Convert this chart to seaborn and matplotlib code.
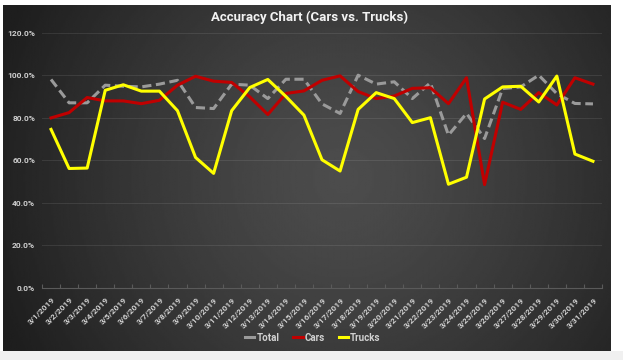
import numpy as np
import pandas as pd
import seaborn as sns
import matplotlib.pyplot as plt
from matplotlib.ticker import PercentFormatter, FixedLocator
from matplotlib.patches import Rectangle

# Data (percent)
dates = ['3/%d/2019' % d for d in range(1, 32)]
total = [98.0, 87.0, 87.0, 95.3, 94.8, 94.5, 95.8, 97.6, 84.8, 84.3, 95.8,
         95.3, 89.0, 98.1, 98.1, 86.5, 82.0, 100.0, 95.8, 96.9, 89.0, 96.4,
         71.8, 82.0, 70.2, 93.7, 94.5, 100.0, 91.3, 86.7, 86.5]
cars = [79.9, 82.4, 89.5, 87.9, 87.9, 86.6, 88.2, 95.3, 99.5, 97.2, 96.6,
        89.8, 81.5, 91.4, 92.6, 97.6, 99.7, 92.3, 89.0, 90.2, 93.8, 94.1,
        86.6, 98.8, 48.5, 87.3, 83.9, 91.8, 86.0, 98.8, 95.8]
trucks = [74.5, 56.1, 56.3, 92.9, 95.5, 92.5, 92.5, 83.3, 61.3, 53.8, 83.3,
          94.2, 98.0, 90.0, 81.2, 60.2, 54.9, 83.9, 91.8, 89.0, 77.7, 80.0,
          48.7, 52.0, 88.8, 94.5, 94.8, 87.4, 99.6, 62.9, 59.5]
series = ['Total', 'Cars', 'Trucks']
colors = {'Total': '#9a9a9a', 'Cars': '#c00000', 'Trucks': '#ffff00'}

df = pd.DataFrame({'Date': dates, 'Total': total, 'Cars': cars, 'Trucks': trucks})
long_df = df.melt(id_vars='Date', var_name='Series', value_name='Accuracy')

plt.rcParams['font.family'] = ['Roboto', 'DejaVu Sans']

fig = plt.figure(figsize=(6.23, 3.6), dpi=100, facecolor='white')
fig.patches.append(Rectangle((0, 0), 1, 9 / 360, transform=fig.transFigure,
                             facecolor='#f0f0f0', edgecolor='none', zorder=-3))

# dark radial gradient background of the chart area
bg = fig.add_axes([3 / 623, 9 / 360, 608 / 623, 346 / 360], zorder=-2)
yy, xx = np.mgrid[0:1:200j, 0:1:350j]
r = np.sqrt(((xx - 0.56) * 1.75) ** 2 + (yy - 0.5) ** 2)
r = np.clip(r / 1.05, 0, 1)
shade = 0.30 - (0.30 - 0.12) * r ** 1.3
bg.imshow(shade, cmap='gray', vmin=0, vmax=1, aspect='auto',
          extent=(0, 1, 0, 1), interpolation='bilinear')
bg.axis('off')

ax = fig.add_axes([42 / 623, (360 - 287.7) / 360, 560 / 623, 255 / 360])
ax.set_facecolor('none')

sns.lineplot(data=long_df, x='Date', y='Accuracy', hue='Series', style='Series',
             hue_order=series, style_order=series, palette=colors,
             dashes={'Total': (3, 1.5), 'Cars': '', 'Trucks': ''},
             linewidth=2.2, sort=False, ax=ax)

ax.set_xlim(-0.5, len(dates) - 0.5)
ax.set_ylim(0, 120)
ax.yaxis.set_major_locator(FixedLocator([0, 20, 40, 60, 80, 100, 120]))
ax.yaxis.set_major_formatter(PercentFormatter(decimals=1))
ax.grid(axis='y', color='#ffffff', alpha=0.09, linewidth=0.8)
ax.grid(axis='x', visible=False)
ax.set_axisbelow(True)
for s in ['top', 'right', 'left']:
    ax.spines[s].set_visible(False)
ax.spines['bottom'].set_color('#5a5a5a')
ax.spines['bottom'].set_linewidth(0.8)

ax.set_xlabel('')
ax.set_ylabel('')
ax.tick_params(axis='y', length=0, pad=5, labelsize=6, labelcolor='#cfcfcf')
ax.tick_params(axis='x', which='major', length=0, pad=6, labelsize=6,
               labelcolor='#cfcfcf')
ax.xaxis.set_minor_locator(FixedLocator(np.arange(-0.5, len(dates), 1)))
ax.tick_params(axis='x', which='minor', length=3, color='#5a5a5a',
               direction='in', width=0.8)
plt.setp(ax.get_xticklabels(), rotation=45, ha='right', rotation_mode='anchor',
         fontweight='bold')
plt.setp(ax.get_yticklabels(), fontweight='bold')

handles, labels = ax.get_legend_handles_labels()
ax.get_legend().remove()
leg = fig.legend(handles, labels, loc='center', bbox_to_anchor=(0.502, 0.062),
                 ncol=3, frameon=False, fontsize=7, handlelength=1.0,
                 handletextpad=0.2, columnspacing=1.4)
for t in leg.get_texts():
    t.set_color('#d0d0d0')
    t.set_fontweight('bold')
for h in leg.legend_handles:
    h.set_linestyle('-')
    h.set_linewidth(2.2)

fig.text(0.497, (360 - 17) / 360, 'Accuracy Chart (Cars vs. Trucks)',
         ha='center', va='center', fontsize=9.5, fontweight='bold',
         color='#f2f2f2')

fig.savefig('out.png', dpi=100)
